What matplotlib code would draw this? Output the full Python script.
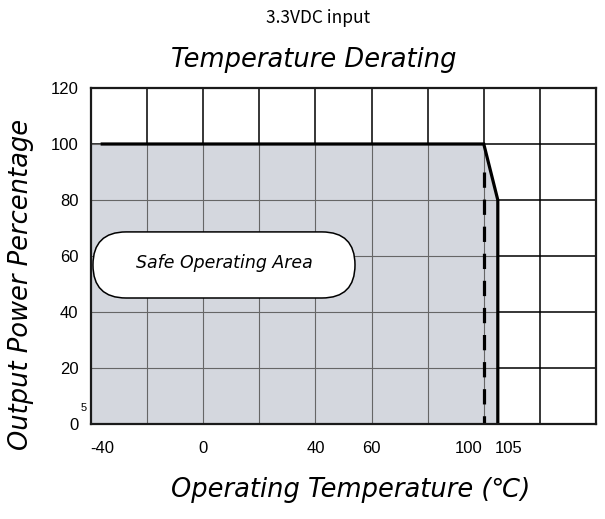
import numpy as np
from matplotlib import pyplot as plt
from matplotlib.patches import Polygon, FancyBboxPatch

plt.rcParams['lines.scale_dashes'] = False

# derating curve (temperature in C, output power in %)
temp = [-40, 100, 105, 105]
power = [100, 100, 80, 0]
line_start = -36          # the heavy line starts a little right of the axis
dash_temp = 100
dash_top = 90

yticks = [0, 20, 40, 60, 80, 100, 120]
ytick_labels = ['0', '20', '40', '60', '80', '100', '120']
xtick_labels = ['-40', '0', '40', '60', '100', '105']
xtick_pos = [-36, 0, 40, 60, 94.5, 109]

grid_x = np.arange(-20, 140, 20)
grid_y = np.arange(20, 120, 20)

hand = ['DejaVu Sans']
fig = plt.figure(figsize=(6.05, 5.19), dpi=100)
ax = fig.add_axes([91/605, 1-424/519, 505/605, 336/519])
ax.set_xlim(-40, 140)
ax.set_ylim(0, 120)

# grid in the white part
for gx in grid_x:
    ax.plot([gx, gx], [0, 120], color='black', lw=1.1, zorder=1)
for gy in grid_y:
    ax.plot([-40, 140], [gy, gy], color='black', lw=1.1, zorder=1)

# shaded safe area
area = Polygon(list(zip([-40] + temp, [0] + power)), closed=True,
               facecolor='#d4d7de', edgecolor='none', zorder=2)
ax.add_patch(area)
for gx in grid_x:
    l, = ax.plot([gx, gx], [0, 120], color='#666666', lw=0.8, zorder=3)
    l.set_clip_path(area)
for gy in grid_y:
    l, = ax.plot([-40, 140], [gy, gy], color='#666666', lw=0.8, zorder=3)
    l.set_clip_path(area)

ax.plot([line_start] + temp[1:], power, color='black', lw=2.3,
        solid_joinstyle='miter', zorder=5)
ax.plot([dash_temp, dash_temp], [dash_top, -0.8], color='black', lw=2.3,
        dashes=(11, 8.5), zorder=5)

# label bubble
bubble = FancyBboxPatch((-39.3, 45), 93.4, 23.6,
                        boxstyle='round,pad=0,rounding_size=11.8',
                        facecolor='white', edgecolor='black', lw=1.1, zorder=6)
ax.add_patch(bubble)
ax.text(7.5, 57.6, 'Safe Operating Area', ha='center', va='center',
        fontsize=12.5, family=hand, style='oblique', zorder=7)

for s in ax.spines.values():
    s.set_linewidth(1.6)
    s.set_color('#1a1a1a')
    s.set_zorder(6)

ax.set_yticks(yticks)
ax.set_yticklabels(ytick_labels, family='Liberation Sans', fontsize=12)
ax.set_xticks(xtick_pos)
ax.set_xticklabels(xtick_labels, family='Liberation Sans', fontsize=12)
ax.tick_params(length=0)
ax.tick_params(axis='x', pad=12.5)
ax.tick_params(axis='y', pad=9)
ax.text(-41.5, 4, '5', fontsize=8, family='Liberation Sans', ha='right', va='bottom')

fig.text(318/605, 1-18/519, '3.3VDC input', ha='center', va='center',
         fontsize=12.5, family=['Noto Sans CJK SC', 'DejaVu Sans'])
fig.text(314/605, 1-60/519, 'Temperature Derating', ha='center', va='center',
         fontsize=18.5, family=hand, style='oblique')
fig.text(351/605, 1-490/519, 'Operating Temperature (\u2103)', ha='center', va='center',
         fontsize=18.5, family=hand, style='oblique')
fig.text(21/605, 1-284/519, 'Output Power Percentage', ha='center', va='center',
         rotation=90, fontsize=18.5, family=hand, style='oblique')

fig.savefig('out.png', dpi=100)
